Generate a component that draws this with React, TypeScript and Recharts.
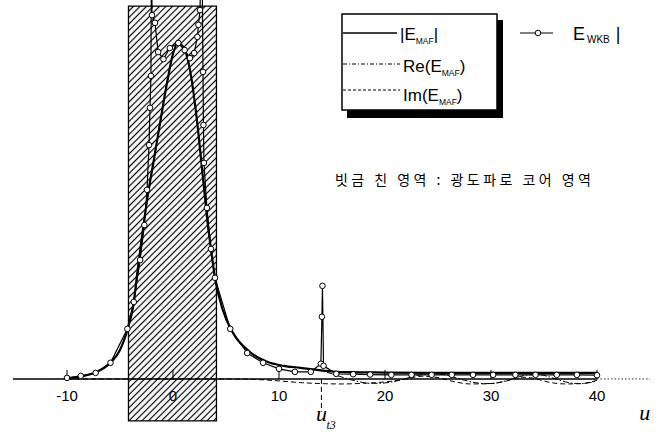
import React from 'react';
import { ComposedChart, Line, Scatter, XAxis, YAxis, ReferenceArea, ReferenceLine } from 'recharts';

const W = 667;
const H = 434;

// |E_MAF| (normalised, peak = 100)
const mafU = [-10, -8.8, -7.4, -5.9, -5.0, -4.25, -3.77, -3.3, -2.83, -2.36, -1.79, -1.23, -0.57, 0, 0.45, 0.94, 1.6, 2.26, 2.74, 3.02, 3.21, 3.58, 3.96, 4.7, 5.66, 7.26, 8.87, 10.4, 12, 13.6, 15.1, 16.7, 20, 25, 30, 35, 40];
const mafAbs = [0.15, 0.6, 1.8, 4.8, 8.6, 15.2, 21.4, 33.3, 44.6, 55.0, 65.5, 76.0, 88.0, 96.8, 100, 99.0, 92.0, 77.0, 62.5, 54.0, 48.0, 38.7, 30.1, 20.5, 13.7, 8.0, 5.1, 3.9, 3.3, 2.7, 2.2, 2.0, 1.9, 1.8, 1.8, 1.8, 1.8];

// Re(E_MAF) tail beyond the overlap with |E_MAF|
const reTailU = [14.5, 15.5, 16.5, 17.5, 18.5, 19.5, 20.5, 21.5, 22.5, 23.5, 24.5, 25.5, 26.5, 27.5, 28.5, 29.5, 30.5, 31.5, 32.5, 33.5, 34.5, 35.5, 36.5, 37.5, 38.5, 39.5, 40];
const reTail = [2.0, 1.0, 0, -0.8, -1.3, -1.3, -1.0, -0.3, 0.6, 1.3, 1.5, 1.3, 0.5, -0.4, -1.1, -1.4, -1.2, -0.5, 0.5, 1.2, 1.3, 0.6, -0.4, -1.2, -1.4, -1.0, -0.6];

// Im(E_MAF)
const imU = [-10, -4, 0, 4, 8, 10, 12, 14, 16, 18, 20, 22, 23.5, 25, 26.5, 28, 30, 31.5, 33, 34, 35.5, 37, 38.5, 40];
const imVal = [0, 0, 0, 0, -0.2, -0.6, -1.1, -1.4, -1.5, -1.3, -0.9, 0, 0.8, 0.4, -0.8, -1.5, -1.4, -0.6, 0.5, 0.2, -1.0, -1.5, -1.4, -0.4];

// |E_WKB|
const wkbU = [-10, -8.7, -7.3, -5.9, -4.3, -3.7, -3.1, -2.7, -2.45, -2.26, -2.17, -2.08, -2.02, -1.98, -1.7, -1.4, -0.9, -0.3, 0.5, 1.1, 1.6, 2.0, 2.3, 2.4, 2.55, 2.7, 2.83, 2.87, 2.92, 3.2, 3.58, 3.96, 5.4, 7.0, 8.5, 10, 11.5, 13, 13.95, 14.05, 14.1, 14.2, 15.4, 17, 18.6, 20.6, 22.5, 24.4, 26.3, 28.3, 30.2, 32.3, 34.2, 36.2, 38.1, 40];
const wkbAbs = [0.3, 0.9, 1.8, 4.8, 14.9, 22.9, 35.4, 45.8, 56.3, 69.6, 80.7, 90.2, 140, 108.3, 106.0, 97.3, 95.2, 98.5, 100, 97.9, 95.5, 97.0, 101.8, 105.4, 109.8, 140, 91.4, 75.6, 64.3, 50.9, 38.7, 30.1, 14.9, 7.7, 4.8, 3.0, 2.1, 2.1, 4.5, 18.5, 27.7, 3.9, 1.5, 1.4, 1.3, 1.2, 1.2, 1.2, 1.2, 1.2, 1.2, 1.2, 1.2, 1.2, 1.2, 1.1];

const tickValues = [-10, 0, 10, 20, 30, 40];
const coreStart = -4.2;
const coreEnd = 4.1;
const uT3 = 14;

const mafData = mafU.map((u, i) => ({ u, v: mafAbs[i] }));
const reData = [
  ...mafU.filter((u) => u <= 13.6).map((u, i) => ({ u, v: mafAbs[i] })),
  ...reTailU.map((u, i) => ({ u, v: reTail[i] })),
];
const imData = imU.map((u, i) => ({ u, v: imVal[i] }));
const wkbData = wkbU.map((u, i) => ({ u, v: wkbAbs[i] }));
const tickLabelData = tickValues.map((t) => ({ u: t, y: -5, label: String(t) }));
const ut3LabelData = [{ u: uT3, y: -11.0 }];
const uLabelData = [{ u: 44.5, y: -10.7 }];

const sans = "'Liberation Sans', Arial, Helvetica, sans-serif";
const serif = "'Liberation Serif', 'Times New Roman', serif";

export default function App() {
  return (
    <div style={{ position: 'absolute', left: 0, top: 0, width: W, height: H, background: '#fff', overflow: 'hidden' }}>
      <svg width={0} height={0} style={{ position: 'absolute' }}>
        <defs>
          <pattern id="hatch" patternUnits="userSpaceOnUse" width={4.6} height={4.6} patternTransform="rotate(45)">
            <line x1={2.3} y1={0} x2={2.3} y2={4.6} stroke="#000" strokeWidth={1.2} />
          </pattern>
        </defs>
      </svg>
      <ComposedChart width={W} height={H} margin={{ top: 0, right: 6.4, bottom: 0, left: 3.4 }}>
        <XAxis type="number" dataKey="u" domain={[-16, 46]} allowDataOverflow hide />
        <YAxis type="number" domain={[-16.4, 112.8]} allowDataOverflow hide />
        <ReferenceArea x1={coreStart} x2={coreEnd} y1={-12.5} y2={111} fill="url(#hatch)" fillOpacity={1} stroke="#000" strokeWidth={1.3} ifOverflow="visible" />
        <ReferenceLine segment={[{ x: -15.1, y: 0 }, { x: 40, y: 0 }]} stroke="#000" strokeWidth={1.5} ifOverflow="visible" />
        <ReferenceLine segment={[{ x: 40, y: 0 }, { x: 45, y: 0 }]} stroke="#000" strokeWidth={0.8} strokeDasharray="1.5 2" ifOverflow="visible" />
        {tickValues.map((t) => (
          <ReferenceLine key={t} segment={[{ x: t, y: 0 }, { x: t, y: 2.7 }]} stroke="#000" strokeWidth={1} ifOverflow="visible" />
        ))}
        <ReferenceLine segment={[{ x: uT3, y: 0 }, { x: uT3, y: -9.8 }]} stroke="#000" strokeWidth={1} strokeDasharray="5 3" ifOverflow="visible" />
        <Line data={imData} dataKey="v" type="monotone" stroke="#000" strokeWidth={1} strokeDasharray="5 3" dot={false} isAnimationActive={false} />
        <Line data={reData} dataKey="v" type="monotone" stroke="#000" strokeWidth={1} strokeDasharray="6 2 1.5 2" dot={false} isAnimationActive={false} />
        <Line data={mafData} dataKey="v" type="monotone" stroke="#000" strokeWidth={2.2} dot={false} isAnimationActive={false} />
        <Line data={wkbData} dataKey="v" type="linear" stroke="#000" strokeWidth={1.2} dot={{ r: 2.8, fill: '#fff', stroke: '#000', strokeWidth: 1 }} isAnimationActive={false} />
        <Scatter
          data={tickLabelData}
          dataKey="y"
          isAnimationActive={false}
          shape={(p: any) => (
            <text x={p.cx} y={p.cy + 5.5} textAnchor="middle" fontFamily={sans} fontSize={15} fill="#000">
              {p.payload.label}
            </text>
          )}
        />
        <Scatter
          data={ut3LabelData}
          dataKey="y"
          isAnimationActive={false}
          shape={(p: any) => (
            <g>
              <text x={p.cx} y={p.cy + 5} textAnchor="middle" fontFamily={serif} fontStyle="italic" fontSize={22} fill="#000">u</text>
              <text x={p.cx + 5} y={p.cy + 13} fontFamily={serif} fontStyle="italic" fontSize={12} fill="#000">t3</text>
            </g>
          )}
        />
        <Scatter
          data={uLabelData}
          dataKey="y"
          isAnimationActive={false}
          shape={(p: any) => (
            <text x={p.cx} y={p.cy + 5} textAnchor="middle" fontFamily={serif} fontStyle="italic" fontSize={22} fill="#000">u</text>
          )}
        />
      </ComposedChart>
      <svg width={W} height={H} style={{ position: 'absolute', left: 0, top: 0, pointerEvents: 'none' }}>
        <rect x={347} y={20} width={156} height={98} fill="#000" />
        <rect x={342} y={14} width={155} height={96} fill="#fff" stroke="#000" strokeWidth={1.5} />
        <line x1={343} y1={33} x2={397} y2={33} stroke="#000" strokeWidth={1.5} />
        <line x1={343} y1={64} x2={400} y2={64} stroke="#000" strokeWidth={1} strokeDasharray="4 2 1 2" />
        <line x1={343} y1={90} x2={400} y2={90} stroke="#000" strokeWidth={1} strokeDasharray="3 2" />
        <text x={400} y={40} fontFamily={sans} fontSize={17} fill="#000">
          |E<tspan fontSize={8.5} dy={4}>MAF</tspan><tspan fontSize={17} dy={-4}>|</tspan>
        </text>
        <text x={403} y={72} fontFamily={sans} fontSize={17} fill="#000">
          Re(E<tspan fontSize={8.5} dy={4}>MAF</tspan><tspan fontSize={17} dy={-4}>)</tspan>
        </text>
        <text x={403} y={101} fontFamily={sans} fontSize={17} fill="#000">
          Im(E<tspan fontSize={8.5} dy={4}>MAF</tspan><tspan fontSize={17} dy={-4}>)</tspan>
        </text>
        <line x1={520} y1={33} x2={553} y2={33} stroke="#000" strokeWidth={1.2} />
        <circle cx={538} cy={33} r={2.8} fill="#fff" stroke="#000" strokeWidth={1} />
        <text x={573} y={40} fontFamily={sans} fontSize={18} fill="#000">
          E<tspan fontSize={10} dx={2} dy={3}>WKB</tspan><tspan fontSize={18} dx={6} dy={-3}>|</tspan>
        </text>
        <text x={335} y={185} fontFamily="'Noto Sans CJK KR', sans-serif" fontSize={14} fill="#000" textLength={256} lengthAdjust="spacing">
          빗금 친 영역 : 광도파로 코어 영역
        </text>
      </svg>
    </div>
  );
}
